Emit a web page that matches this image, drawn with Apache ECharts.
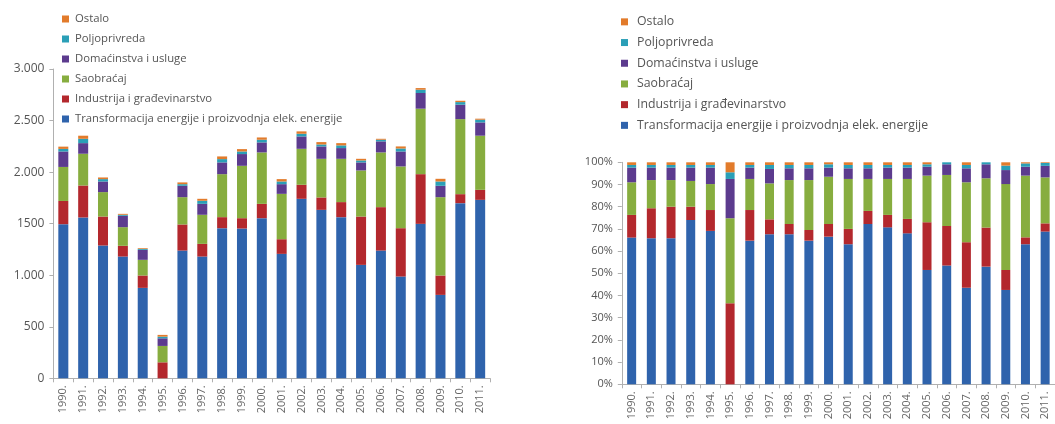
<!DOCTYPE html>
<html>
<head>
<meta charset="utf-8">
<script src="https://cdn.jsdelivr.net/npm/echarts@6/dist/echarts.min.js"></script>
<style>html,body{margin:0;padding:0;background:#fff}#c{width:1055px;height:424px}</style>
</head>
<body>
<div id="c"></div>
<script>
const years = ['1990.','1991.','1992.','1993.','1994.','1995.','1996.','1997.','1998.','1999.','2000.','2001.','2002.','2003.','2004.','2005.','2006.','2007.','2008.','2009.','2010.','2011.'];
const seriesNames = ['Transformacija energije i proizvodnja elek. energije','Industrija i građevinarstvo','Saobraćaj','Domaćinstva i usluge','Poljoprivreda','Ostalo'];
const legendOrder = ['Ostalo','Poljoprivreda','Domaćinstva i usluge','Saobraćaj','Industrija i građevinarstvo','Transformacija energije i proizvodnja elek. energije'];
const leftTickLabels = ['0','500','1.000','1500','2.000','2.500','3.000'];
const rightTickLabels = ['0%','10%','20%','30%','40%','50%','60%','70%','80%','90%','100%'];

// Left chart: absolute values
const absTransformacija = [1495,1560,1288,1181,877,0,1239,1181,1456,1453,1553,1207,1741,1634,1563,1100,1239,987,1498,809,1699,1731];
const absIndustrija     = [225,310,281,104,120,155,253,123,107,100,139,142,136,120,146,469,421,469,482,188,87,97];
const absSaobracaj      = [330,308,237,181,152,159,265,282,417,508,499,440,349,375,420,447,531,599,635,760,728,525];
const absDomacinstva    = [150,103,103,110,97,74,110,106,114,114,97,94,120,120,104,78,107,145,152,110,140,129];
const absPoljoprivreda  = [25,42,23,10,9,16,16,30,32,25,26,26,26,19,26,19,16,29,32,42,25,26];
const absOstalo         = [22,30,16,9,7,17,17,19,26,23,22,23,23,23,22,16,9,20,16,26,13,10];

// Right chart: shares (%)
const pctTransformacija = [66.1,65.8,65.8,74.0,69.1,0,64.7,67.6,67.6,64.7,66.5,63.1,72.2,70.7,68.0,51.5,53.5,43.5,53.0,42.5,63.1,68.8];
const pctIndustrija     = [10.2,13.5,14.2,6.0,9.4,36.5,13.8,6.7,4.6,4.8,5.7,6.9,5.9,5.6,6.5,21.5,17.8,20.5,17.6,9.0,3.1,3.7];
const pctSaobracaj      = [14.7,12.7,12.0,11.6,11.7,38.3,14.0,16.2,19.8,22.5,21.3,22.5,14.4,16.2,18.0,21.0,23.0,27.0,22.2,38.7,27.8,20.7];
const pctDomacinstva    = [6.6,5.6,5.6,6.0,7.4,17.7,5.1,6.5,5.3,5.3,4.1,4.8,4.8,5.1,5.1,4.0,4.8,6.3,6.3,6.3,4.0,5.2];
const pctPoljoprivreda  = [1.2,1.2,1.2,1.2,1.2,3.0,1.2,1.8,1.5,1.5,1.5,1.5,1.5,1.2,1.2,1.1,0.9,1.5,0.9,2.0,1.5,1.3];
const pctOstalo         = [1.2,1.2,1.2,1.2,1.2,4.5,1.2,1.2,1.2,1.2,0.9,1.2,1.2,1.2,1.2,0.9,0,1.2,0.3,1.5,0.5,0.3];

const colors = ['#2f63ac','#b3282d','#87ad3f','#5c3b8e','#2a9fb7','#e27b2b'];
const absData = [absTransformacija,absIndustrija,absSaobracaj,absDomacinstva,absPoljoprivreda,absOstalo];
const pctData = [pctTransformacija,pctIndustrija,pctSaobracaj,pctDomacinstva,pctPoljoprivreda,pctOstalo];

const FONT = 'Open Sans';
const axisGray = '#b0b0b0';
const textGray = '#555';

function xAxisCfg(gi){
  return {
    type:'category', gridIndex:gi, data:years, boundaryGap:true,
    axisLine:{lineStyle:{color:axisGray,width:1}},
    axisTick:{show:true,alignWithLabel:false,length:4,lineStyle:{color:axisGray}},
    axisLabel:{rotate:90,interval:0,margin:7,color:'#666',fontSize:11,fontFamily:FONT},
    splitLine:{show:false}
  };
}

const series = [];
seriesNames.forEach((n,i)=>{
  series.push({name:n,type:'bar',stack:'a',xAxisIndex:0,yAxisIndex:0,barWidth:10,data:absData[i],itemStyle:{color:colors[i]},animation:false});
});
seriesNames.forEach((n,i)=>{
  series.push({name:n,type:'bar',stack:'b',xAxisIndex:1,yAxisIndex:1,barWidth:9,data:pctData[i],itemStyle:{color:colors[i]},animation:false});
});

const legendBase = {
  orient:'vertical', data:legendOrder, icon:'rect', itemWidth:7, itemHeight:7, itemGap:0,
  selectedMode:false, padding:0
};

const option = {
  animation:false,
  color:colors,
  grid:[
    {left:53.4, top:69, width:436.7, height:309.3, containLabel:false},
    {left:621.8, top:162.3, width:436.7, height:222, containLabel:false}
  ],
  legend:[
    Object.assign({}, legendBase, {left:62, top:9, itemGap:0, textStyle:{fontFamily:FONT,fontSize:11.3,color:textGray,lineHeight:20,padding:[0,0,0,1]}}),
    Object.assign({}, legendBase, {left:621, top:11.5, itemGap:0, textStyle:{fontFamily:FONT,fontSize:12.3,color:textGray,lineHeight:20.7,padding:[0,0,0,4]}})
  ],
  xAxis:[xAxisCfg(0), xAxisCfg(1)],
  yAxis:[
    {type:'value',gridIndex:0,min:0,max:3000,interval:500,
     axisLine:{show:true,lineStyle:{color:axisGray}},
     axisTick:{show:true,length:4,lineStyle:{color:axisGray}},
     splitLine:{show:false},
     axisLabel:{margin:9,color:textGray,fontSize:12,fontFamily:FONT,formatter:(v)=>leftTickLabels[Math.round(v/500)]}},
    {type:'value',gridIndex:1,min:0,max:100,interval:10,
     axisLine:{show:true,lineStyle:{color:axisGray}},
     axisTick:{show:true,length:4,lineStyle:{color:axisGray}},
     splitLine:{show:false},
     axisLabel:{margin:9,color:textGray,fontSize:11,fontFamily:FONT,formatter:(v)=>rightTickLabels[Math.round(v/10)]}}
  ],
  series:series
};

const chart = echarts.init(document.getElementById('c'), null, {renderer:'canvas'});
chart.setOption(option);
</script>
</body>
</html>
